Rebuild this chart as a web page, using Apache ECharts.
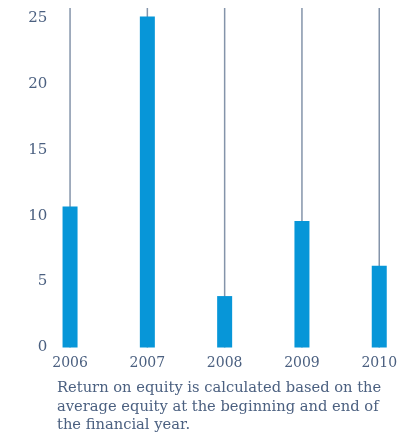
<!DOCTYPE html>
<html>
<head>
<meta charset="utf-8">
<script src="https://cdn.jsdelivr.net/npm/echarts@6/dist/echarts.min.js"></script>
<style>
  html, body { margin: 0; padding: 0; background: #fff; }
  #chart { width: 408px; height: 435px; }
</style>
</head>
<body>
<div id="chart"></div>
<script>
const years = ['2006', '2007', '2008', '2009', '2010']
const returnOnEquity = [10.7, 25.1, 3.9, 9.6, 6.2]
const yTicks = [0, 5, 10, 15, 20, 25]
const axisTop = 25.75
const note = 'Return on equity is calculated based on the\naverage equity at the beginning and end of\nthe financial year.'

const textColor = '#4b6080'
const serif = '"DejaVu Serif", serif'

const chart = echarts.init(document.getElementById('chart'))

const catAxis = (show) => ({
  type: 'category',
  data: years,
  show: show,
  axisLine: { show: false },
  axisTick: { show: false },
  axisLabel: {
    color: textColor,
    fontFamily: serif,
    fontSize: 14,
    margin: 9
  }
})

chart.setOption({
  animation: false,
  title: {
    text: note,
    left: 52,
    top: 374,
    textStyle: {
      color: textColor,
      fontFamily: serif,
      fontSize: 14.7,
      fontWeight: 'normal',
      lineHeight: 18.5
    }
  },
  grid: {
    left: 31.4,
    top: 8,
    width: 386.5,
    bottom: 87.5,
    containLabel: false,
    outerBoundsMode: 'none'
  },
  xAxis: [catAxis(true), catAxis(false)],
  yAxis: {
    type: 'value',
    min: 0,
    max: axisTop,
    interval: 5,
    splitLine: { show: false },
    axisLabel: {
      color: textColor,
      fontFamily: serif,
      fontSize: 15,
      margin: -16,
      showMaxLabel: false,
      formatter: v => (yTicks.includes(v) ? String(v) : '')
    }
  },
  series: [
    {
      name: 'guide',
      type: 'bar',
      xAxisIndex: 1,
      data: years.map(() => axisTop),
      barWidth: 1.5,
      itemStyle: { color: '#8494aa' },
      z: 1,
      silent: true
    },
    {
      name: 'Return on equity',
      type: 'bar',
      xAxisIndex: 0,
      data: returnOnEquity,
      barWidth: 15,
      itemStyle: { color: '#0796d8' },
      z: 2
    }
  ]
})
</script>
</body>
</html>
